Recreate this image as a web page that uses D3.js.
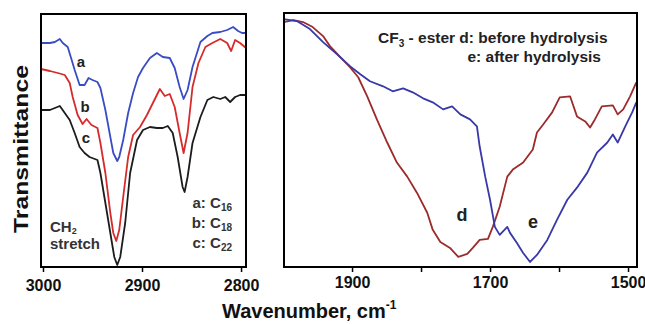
<!DOCTYPE html>
<html>
<head>
<meta charset="utf-8">
<script src="https://cdn.jsdelivr.net/npm/d3@7"></script>
<style>
    body { margin: 0; background: #fff; }
    svg { display: block; font-family: "Liberation Sans", Arial, sans-serif; }
</style>
</head>
<body>
<div id="chart"></div>
<script>
// CH2 stretch region, [wavenumber, transmittance a.u.]
const seriesA = [[3002,224],[2993,224],[2988,225],[2983,228],[2980,224],[2975,220],[2971,207],[2968,197],[2963,182],[2958,182],[2954,189],[2950,187],[2945,185],[2942,179],[2937,157],[2932,130],[2929,114],[2925,106],[2923,110],[2919,127],[2914,154],[2909,174],[2904,190],[2899,199],[2892,209],[2885,214],[2879,210],[2872,209],[2867,199],[2862,180],[2858,168],[2854,177],[2849,200],[2841,225],[2834,231],[2829,234],[2821,235],[2814,237],[2808,240],[2803,236],[2799,234],[2795,234]];
const seriesB = [[3002,198],[2993,196],[2985,194],[2978,192],[2973,184],[2970,170],[2965,152],[2960,143],[2956,148],[2951,142],[2945,139],[2942,124],[2937,94],[2932,54],[2929,34],[2926,26],[2923,37],[2919,70],[2914,110],[2909,132],[2902,140],[2895,152],[2889,164],[2882,178],[2877,171],[2872,173],[2867,160],[2862,134],[2858,114],[2854,134],[2849,180],[2843,204],[2836,220],[2829,224],[2821,228],[2814,224],[2810,216],[2806,227],[2801,224],[2795,219]];
const seriesC = [[3002,157],[2993,157],[2988,159],[2983,161],[2978,154],[2973,147],[2968,134],[2963,120],[2958,114],[2953,110],[2945,107],[2942,94],[2937,64],[2932,34],[2928,10],[2925,2],[2922,10],[2917,44],[2912,94],[2905,127],[2899,137],[2892,140],[2885,139],[2879,139],[2874,141],[2869,134],[2864,110],[2859,80],[2857,75],[2854,90],[2849,124],[2841,150],[2834,167],[2828,170],[2821,168],[2816,170],[2811,165],[2806,170],[2801,172],[2795,172]];

// CF3 ester carbonyl region
const seriesD = [[1999,244],[1985,246],[1971,244],[1957,239],[1942,230],[1932,220],[1917,209],[1903,199],[1891,189],[1878,170],[1864,147],[1849,124],[1835,104],[1820,90],[1806,74],[1791,54],[1783,37],[1772,25],[1758,19],[1746,10],[1733,13],[1725,19],[1715,27],[1703,28],[1696,40],[1686,60],[1675,90],[1667,97],[1652,104],[1638,117],[1632,134],[1623,142],[1610,154],[1599,169],[1584,170],[1574,150],[1562,145],[1555,139],[1548,147],[1538,160],[1522,161],[1515,152],[1507,157],[1497,170],[1488,184]];
const seriesE = [[1999,247],[1980,245],[1961,237],[1942,224],[1922,212],[1903,200],[1888,192],[1874,185],[1855,180],[1841,175],[1826,178],[1812,174],[1797,168],[1783,164],[1768,157],[1755,160],[1743,152],[1729,147],[1719,140],[1715,120],[1707,90],[1700,67],[1693,40],[1686,32],[1675,40],[1671,34],[1661,24],[1652,14],[1642,5],[1632,12],[1617,27],[1603,47],[1588,67],[1574,79],[1559,94],[1545,114],[1530,124],[1522,132],[1515,124],[1504,140],[1494,154],[1488,164]];

const leftTicks = [3000, 2900, 2800];
const rightTicks = [1900, 1800, 1700, 1600, 1500];
const rightTickLabels = [1900, 1700, 1500];

const width = 645, height = 324;
const svg = d3.select("#chart").append("svg")
    .attr("width", width)
    .attr("height", height);

function drawPanel(opts) {
    const x = d3.scaleLinear().domain(opts.xDomain).range([opts.left, opts.right]);
    const y = d3.scaleLinear().domain([0, 253]).range([opts.bottom, opts.top]);
    const g = svg.append("g");

    const line = d3.line()
        .x((d) => x(d[0]))
        .y((d) => y(d[1]));

    opts.series.forEach((s) => {
        g.append("path")
            .datum(s.data)
            .attr("fill", "none")
            .attr("stroke", s.color)
            .attr("stroke-width", 1.8)
            .attr("stroke-linejoin", "round")
            .attr("d", line);
    });

    const axis = d3.axisBottom(x)
        .tickValues(opts.ticks)
        .tickSize(5)
        .tickFormat((d) => (opts.labels.includes(d) ? d : ""));
    const ax = g.append("g")
        .attr("transform", `translate(0,${opts.bottom})`)
        .call(axis);
    ax.select(".domain").remove();
    ax.selectAll(".tick line").attr("stroke", "#000").attr("stroke-width", 1.5);
    ax.selectAll(".tick text")
        .attr("y", opts.labelY)
        .attr("dy", 0)
        .attr("fill", "#111")
        .attr("font-size", 16)
        .attr("font-weight", "bold")
        .attr("font-family", "Liberation Sans, Arial, sans-serif");

    g.append("rect")
        .attr("x", opts.left)
        .attr("y", opts.top)
        .attr("width", opts.right - opts.left)
        .attr("height", opts.bottom - opts.top)
        .attr("fill", "none")
        .attr("stroke", "#000")
        .attr("stroke-width", 2);
    return g;
}

const left = drawPanel({
    left: 41, right: 246, top: 14, bottom: 267,
    xDomain: [3002, 2795],
    ticks: leftTicks, labels: leftTicks, labelY: 24,
    series: [
        { data: seriesA, color: "#3a4cc4" },
        { data: seriesB, color: "#d62b2b" },
        { data: seriesC, color: "#1c1c1c" },
    ],
});

const right = drawPanel({
    left: 284, right: 637, top: 13, bottom: 267,
    xDomain: [1998.6, 1487],
    ticks: rightTicks, labels: rightTickLabels, labelY: 21,
    series: [
        { data: seriesD, color: "#9c2b2b" },
        { data: seriesE, color: "#3838a8" },
    ],
});

// curve letters
const bold = (g, txt, xx, yy, size) =>
    g.append("text")
        .attr("x", xx).attr("y", yy)
        .attr("text-anchor", "middle")
        .attr("font-size", size)
        .attr("font-weight", "bold")
        .attr("fill", "#222")
        .text(txt);

bold(left, "a", 81, 67, 15);
bold(left, "b", 85, 112, 15);
bold(left, "c", 86, 143, 15);
bold(right, "d", 462, 221, 18);
bold(right, "e", 533, 228, 18);

// CH2 stretch
const ch = left.append("text")
    .attr("x", 50).attr("y", 232)
    .attr("font-size", 15).attr("font-weight", "bold").attr("fill", "#333");
ch.append("tspan").text("CH");
ch.append("tspan").attr("font-size", 9).attr("dy", 2).text("2");
left.append("text")
    .attr("x", 50).attr("y", 249)
    .attr("font-size", 15).attr("font-weight", "bold").attr("fill", "#333")
    .text("stretch");

// chain length legend
const legend = [["a: C", "16", 208], ["b: C", "18", 228], ["c: C", "22", 248]];
legend.forEach(([t, sub, yy]) => {
    const tx = left.append("text")
        .attr("x", 232).attr("y", yy)
        .attr("text-anchor", "end")
        .attr("font-size", 15).attr("font-weight", "bold").attr("fill", "#333");
    tx.append("tspan").text(t);
    tx.append("tspan").attr("font-size", 10).attr("dy", 3).text(sub);
});

// ester legend
const l1 = right.append("text")
    .attr("x", 378).attr("y", 43)
    .attr("font-size", 15.5).attr("font-weight", "bold").attr("fill", "#222");
l1.append("tspan").text("CF");
l1.append("tspan").attr("font-size", 10).attr("dy", 4).text("3");
l1.append("tspan").attr("dy", -4).text(" - ester d: before hydrolysis");
right.append("text")
    .attr("x", 601).attr("y", 62)
    .attr("text-anchor", "end")
    .attr("font-size", 15.5).attr("font-weight", "bold").attr("fill", "#222")
    .text("e: after hydrolysis");

// axis titles
svg.append("text")
    .attr("transform", "translate(28,149) rotate(-90)")
    .attr("text-anchor", "middle")
    .attr("font-size", 20)
    .attr("font-weight", "bold")
    .attr("fill", "#111")
    .attr("textLength", 168)
    .attr("lengthAdjust", "spacingAndGlyphs")
    .text("Transmittance");

const xt = svg.append("text")
    .attr("x", 222).attr("y", 318)
    .attr("font-size", 20)
    .attr("font-weight", "bold")
    .attr("fill", "#111");
xt.append("tspan").text("Wavenumber, cm");
xt.append("tspan").attr("font-size", 12).attr("dy", -9).text("-1");
</script>
</body>
</html>
